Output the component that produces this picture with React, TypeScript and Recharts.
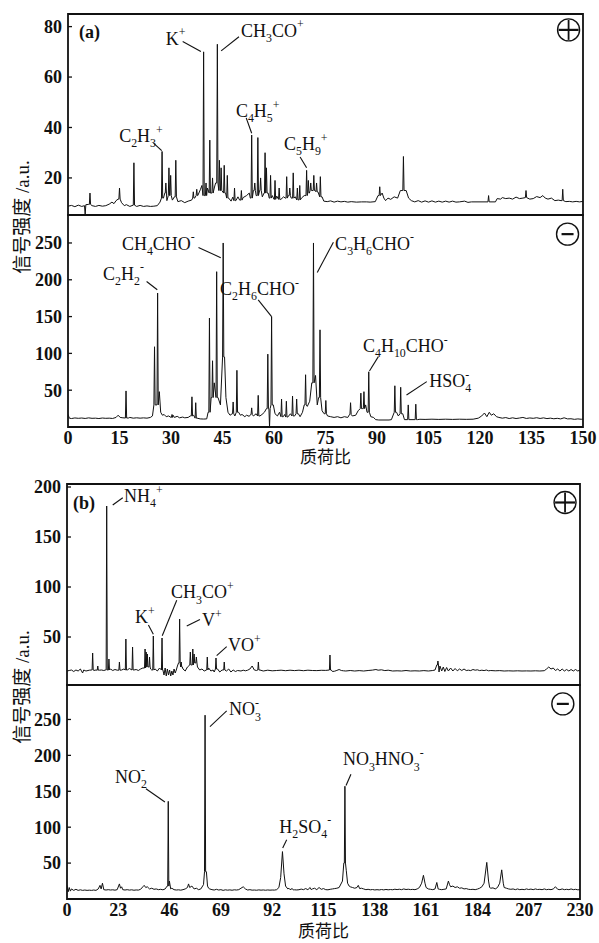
import React from 'react';
import {
  LineChart,
  Line,
  XAxis,
  YAxis,
  ReferenceLine,
  ReferenceDot,
  ReferenceArea,
  Label,
} from 'recharts';

const INK = '#111';
const SERIF = "'Liberation Serif', 'Times New Roman', serif";
const CJK = "'Liberation Serif', 'Noto Sans CJK SC', sans-serif";

type Pt = [number, number];
type Note = { text: string; at: Pt; line?: [number, number, number, number]; bold?: boolean };

// tick labels
const xTicksA = [0, 15, 30, 45, 60, 75, 90, 105, 120, 135, 150];
const xTicksB = [0, 23, 46, 69, 92, 115, 138, 161, 184, 207, 230];
const yTicksAPos = [20, 40, 60, 80];
const yTicksANeg = [50, 100, 150, 200, 250];
const yTicksBPos = [50, 100, 150, 200];
const yTicksBNeg = [50, 100, 150, 200, 250];

// (a) positive spectrum: baseline trace [m/z, signal] and spikes [m/z, height]
const aPosBase: Pt[] = [
  [0, 8.8], [1, 9.1], [2, 8.6], [3, 9.2], [4, 8.7], [4.8, 9], [5, 5.5], [5.2, 9.4], [6, 9.5], [7, 9], [8, 8.7],
  [9, 9.1], [10, 8.8], [11, 9], [12, 9.6], [12.8, 10.4], [13.4, 9.8], [14, 11], [14.6, 11.6], [15.6, 10.2],
  [16.4, 9], [17, 9.4], [18, 8.7], [19, 9.2], [20, 8.7], [21, 9.1], [22, 8.7], [23, 8.9], [24, 8.7], [25, 8.8],
  [26, 9], [26.8, 10.4], [27.8, 12], [28.2, 14], [28.8, 11], [29.6, 13], [30.4, 11.2], [31, 12.5], [32, 10.6],
  [33, 11], [34, 10.2], [35, 10.8], [36, 11.2], [36.9, 12], [37.8, 13], [38.6, 15.5], [39, 17], [39.9, 13],
  [40.6, 16], [41.9, 14], [42.6, 16], [43, 18], [44.8, 15], [45.9, 14], [46.8, 12], [47.5, 10.8], [48, 12.4],
  [48.9, 11], [49.5, 12.5], [50, 11.2], [51, 12.2], [52, 13], [52.8, 14], [53.1, 12], [54, 15], [54.8, 13],
  [55.8, 15], [56.6, 12.5], [57.1, 14], [58.3, 14], [58.6, 12], [59.5, 13], [60, 11.5], [60.8, 12.8], [62, 11.5],
  [62.8, 12.5], [63.3, 12], [64.2, 13], [65, 12], [66.2, 12.5], [67, 11.3], [68, 12], [68.8, 13], [70.3, 14],
  [71, 15], [72, 15], [72.8, 14.5], [74, 12.5], [74.5, 10.8], [75.5, 10.6], [76.5, 10.9], [77.5, 10.4],
  [78.5, 10.8], [79.5, 10.5], [80.5, 10.7], [81.5, 10.4], [82.5, 10.6], [84, 10.4], [85.5, 10.5], [87, 10.5],
  [88, 10.4], [89.5, 10.6], [90.3, 13], [91.5, 14], [92, 12], [92.5, 11], [93.2, 12], [94, 11.5], [95, 12.5],
  [96, 12], [96.8, 15], [98.5, 15], [99.2, 12], [100, 11], [101, 10.5], [102, 11], [103, 10.4], [104, 10.9],
  [105, 10.4], [106, 10.9], [107, 10.4], [108, 10.8], [109, 10.4], [110, 10.8], [111, 10.4], [112, 10.8],
  [113, 10.4], [114, 10.5], [115.5, 10.8], [116.5, 10.3], [117.5, 10.5], [124.5, 10.5], [125, 11.8], [126, 11.6],
  [126.5, 12.2], [127.5, 11.8], [128.5, 12], [129.5, 11.6], [130.5, 12.4], [131.5, 11.8], [132.5, 12],
  [133.5, 12.2], [134.5, 11.6], [135.5, 11.8], [136.5, 12.6], [137.5, 12.2], [138.3, 13], [139, 12], [139.8, 11.6],
  [140.8, 12], [141.8, 11], [142.8, 11.2], [143.6, 11], [145, 10.6], [146, 10.7], [147, 10.5], [148, 10.7],
  [149, 10.5], [150, 10.7],
];
const aPosPeaks: Pt[] = [
  [6.4, 14], [15, 16], [19.2, 26], [27.4, 30.5], [28.5, 18], [29.4, 24], [29.9, 21], [31.4, 27], [36.5, 14.5],
  [37.5, 15.5], [39.5, 70], [40.2, 18], [41.3, 35], [42.1, 20], [43.5, 73], [44.1, 27], [44.6, 24], [45.5, 25],
  [46.4, 21], [48.5, 16], [50.5, 15], [53.5, 37], [54.4, 18], [55.3, 36], [56.1, 20], [57.4, 30], [57.8, 24],
  [59, 21], [60.3, 19], [61.5, 16], [63.7, 20.5], [64.6, 16], [65.6, 22], [66.8, 16], [67.5, 17], [69.5, 23],
  [70, 19], [70.7, 18], [71.6, 21], [72.4, 18], [73.5, 20.5], [90.8, 16.5], [97.7, 28.5], [122.5, 13],
  [133.4, 15], [144.1, 15.5],
];

// (a) negative spectrum
const aNegBase: Pt[] = [
  [0, 17], [0.4, 12], [1, 11.5], [2, 12.3], [3, 11.8], [4, 12.2], [5, 11.6], [6, 12.4], [7, 11.8], [8, 12],
  [9, 11.5], [10, 12.2], [11, 11.8], [12, 12], [13, 11.6], [14, 13], [14.6, 16], [15.2, 13], [16, 12.5],
  [17.6, 12.2], [18, 13], [19, 12], [20, 12.5], [21, 12], [22, 12.4], [23, 12], [24, 13], [24.6, 15], [25.6, 30],
  [26.6, 48], [27, 20], [27.5, 16], [28, 17], [28.6, 14], [29.3, 15], [30, 13], [30.6, 16], [31, 13], [31.8, 14.5],
  [32.5, 12.5], [33.4, 13.5], [34, 12.5], [35, 13], [35.6, 15], [36.6, 16], [37.6, 12], [38.5, 11], [39.5, 10.8],
  [40.4, 11], [40.8, 20], [41.7, 40], [42.6, 60], [43.7, 40], [44.4, 30], [45.6, 95], [46, 40], [46.6, 20],
  [47.2, 16], [47.8, 18], [48.6, 15], [49.7, 20], [50.2, 16], [50.7, 17], [51.5, 14], [52, 16], [52.8, 14.5],
  [53.2, 17], [54, 15], [54.8, 18], [55.9, 15], [56.5, 17], [57.2, 20], [57.8, 25], [59.8, 30], [60.3, 18],
  [61, 15], [61.6, 20], [62.7, 14], [63.1, 17], [64, 13.5], [64.8, 18], [66, 15], [67.1, 18], [67.6, 14],
  [68.3, 20], [68.8, 30], [69.7, 28], [70.4, 35], [71, 60], [72.1, 70], [72.6, 30], [73, 40], [74, 22],
  [74.6, 18], [75.6, 15], [76.5, 14], [77.5, 13], [78.5, 14], [79.5, 12.5], [80.5, 14], [81.5, 13], [82, 17],
  [82.8, 15], [83.8, 16], [84.5, 22], [85.7, 25], [86.7, 30], [87.1, 20], [88.2, 14], [89, 13], [89.6, 10],
  [90.5, 9.5], [93.5, 9.5], [94.2, 10], [95.7, 20], [96.2, 15], [97.5, 18], [98, 10], [99.6, 10], [100.8, 10],
  [101.8, 10], [102.5, 10.5], [104, 10.3], [106, 10.6], [108, 10.3], [110, 10.6], [112, 10.3], [114, 10.6],
  [116, 10.4], [118, 10.6], [119.5, 12], [120.5, 15], [121.3, 19], [122, 14], [122.7, 20], [123.3, 16], [124, 18],
  [124.8, 14], [125.5, 13], [126.5, 12], [127.5, 12.8], [128.5, 11.5], [129.5, 12.5], [130.5, 11.5],
  [131.5, 12.2], [132.5, 13], [133.5, 11.6], [134.5, 12.3], [135.5, 11.8], [136.5, 12.6], [137.5, 11.6],
  [138.5, 12.4], [139.5, 11.4], [140.5, 12], [141.5, 11.2], [142.5, 11.8], [143.5, 11], [144.5, 12.5],
  [145.5, 11], [146.5, 11.2], [147.5, 10.4], [148.5, 11], [149.5, 10.5], [150, 10.8],
];
const aNegPeaks: Pt[] = [
  [16.9, 49], [25.2, 109], [26.1, 182], [30.3, 17], [36.1, 41], [37.2, 33], [41.2, 148], [42.1, 90], [43.3, 211],
  [45.2, 250], [48.1, 34], [49.2, 77], [53.5, 26], [55.4, 43], [58.2, 99], [58.7, 0], [59.3, 150], [62.2, 38],
  [63.6, 35], [65.4, 42], [66.6, 38], [69.2, 71], [71.5, 250], [73.4, 132], [75.1, 36], [82.3, 33], [85.3, 46],
  [86.2, 48], [87.6, 75], [95.2, 56], [96.9, 54], [99.1, 30], [101.3, 31],
];

// (b) positive spectrum
const bPosBase: Pt[] = [
  [0, 16], [1, 16.5], [2, 17], [3, 15.5], [4, 17], [5, 16], [6, 18], [7, 14], [7.5, 17], [8.5, 16], [10, 16.8],
  [11, 17], [12, 16.5], [13, 17], [14.5, 16.8], [15.5, 17], [16.5, 16.5], [17.2, 17], [18.4, 17], [19.5, 18],
  [20.5, 16.5], [21.5, 17.5], [22.5, 16.8], [24.5, 17], [25.5, 18], [27, 17], [28, 18.5], [30, 17], [31, 17.5],
  [32, 16.5], [33, 18], [34, 19], [36.5, 20], [37.5, 18], [38, 17], [39.5, 18], [40.5, 16], [41.5, 19], [43, 17],
  [43.5, 12], [44, 19], [44.5, 11], [45, 18], [45.5, 12], [46, 17], [46.5, 11], [47, 16], [47.5, 12], [48, 18],
  [48.5, 14], [49, 17], [49.5, 21], [50, 24], [51.7, 20], [52, 18], [53, 16], [54, 20], [55.8, 22], [57.5, 24],
  [58.5, 20], [59.5, 17], [60.5, 18], [61.5, 16], [62.5, 17], [63.5, 19], [64.5, 16], [65.5, 17], [66, 15],
  [67.5, 18], [68.5, 15], [69.5, 17], [71.5, 16], [72.5, 18], [73.5, 15], [74.5, 17], [75.5, 15.5], [76.5, 16.5],
  [78, 16], [79, 16.8], [80, 16.2], [81, 16.8], [82, 18], [83, 21], [84, 17], [85, 16.5], [86.5, 17], [88, 16],
  [90, 16.8], [92, 16.2], [94, 16.5], [96, 16.8], [98, 16.3], [100, 16.8], [102, 16.4], [104, 16.8], [106, 16.3],
  [108, 16.8], [110, 16.5], [112, 16.4], [114, 16.7], [116, 16.6], [117, 16.8], [118.5, 17], [119, 15.5],
  [120, 15.8], [121, 16.6], [122, 17.5], [123, 16.5], [124, 16.2], [125, 16], [127, 16.5], [129, 16],
  [131, 16.4], [133, 16], [135, 16.5], [137, 16.9], [138.5, 17.5], [139.5, 16.8], [141, 17.2], [142.5, 16.4],
  [144, 16.8], [146, 16], [148, 16.2], [150, 16], [152, 16.5], [154, 16], [156, 16.2], [158, 16], [160, 16.4],
  [162, 16], [164, 16.5], [165, 17], [165.8, 22], [166.8, 15], [167.2, 21], [168, 16], [168.7, 20], [169.4, 15.5],
  [170.2, 19.5], [171, 16], [172, 19], [173, 16], [174, 18.5], [175, 16.2], [176, 18], [177, 16.5], [178, 18],
  [179, 16.5], [180, 16.8], [181, 16.4], [182, 17.5], [183, 16.8], [184, 17.2], [185, 16.4], [186, 16.8],
  [187, 16.4], [188, 17], [189, 16.2], [190, 16.5], [192, 16.2], [194, 16.4], [196, 16], [198, 16.2], [200, 16],
  [202, 16.2], [204, 16], [206, 16.1], [208, 16], [210, 16.2], [212, 16], [214, 16.3], [215, 18], [216, 20],
  [217, 18], [218, 19], [219, 16.5], [220, 18], [221, 16], [222, 18], [223, 16], [224, 17.5], [225, 16],
  [226, 17.5], [227, 16], [228, 17.5], [229, 16], [230, 17],
];
const bPosPeaks: Pt[] = [
  [11.5, 34], [13.8, 21], [17.8, 181], [18.8, 28], [23.5, 25], [26.4, 48], [29.4, 40], [35, 38], [35.5, 35],
  [36, 33], [37, 30], [38.7, 51], [42.6, 49], [50.5, 68], [51.2, 25], [55.3, 35], [56.4, 38], [57, 33], [58, 30],
  [62.9, 30], [66.8, 29], [70.5, 25], [85.8, 25], [117.9, 32], [166.3, 26],
];

// (b) negative spectrum
const bNegBase: Pt[] = [
  [0, 19], [0.5, 10], [1, 16], [1.5, 11], [2, 14], [3, 12], [4, 13.5], [5, 12], [6, 12.8], [7, 12], [8, 12.5],
  [9, 12], [10, 12.3], [11, 12], [12, 12.5], [13, 12], [14, 14], [14.8, 19], [15.3, 14], [15.9, 22], [16.5, 13],
  [17.5, 12.5], [18.5, 13], [19.5, 12.5], [20.5, 12.8], [21.5, 12.3], [22.5, 13], [23.5, 21], [24, 15],
  [24.5, 17], [25, 13], [26, 12.5], [27, 13], [28, 12.4], [29, 12.8], [30, 12.2], [31, 12.6], [32, 12.4],
  [33, 13.5], [34, 17], [34.6, 19], [35.3, 16], [36, 17], [37, 14], [38, 15], [39, 13.5], [40, 14], [41, 13],
  [42, 13.5], [43, 12.8], [44, 14], [44.9, 18], [45.9, 25], [46.5, 14], [47, 15], [48, 13], [49, 12.5],
  [50, 12.8], [51, 12.3], [52, 13], [53, 14], [54, 16], [54.5, 21], [55, 16], [56, 18], [57, 14], [58, 15],
  [59, 13], [60, 14], [61.2, 20], [62.5, 38], [63, 18], [63.5, 15], [64, 14], [65, 13], [66, 12.5], [67, 13.5],
  [68, 12.5], [69, 13], [70, 12], [71, 12.8], [72, 12.3], [73, 12.7], [74, 12.2], [75, 12.8], [76, 12.5], [77, 13],
  [78, 15], [79, 17], [80, 14], [81, 12.5], [82, 13], [83, 12.3], [84, 12.5], [85, 12.2], [86, 12.7], [87, 12.3],
  [88, 12.6], [89, 12.2], [90, 12.6], [91, 12.3], [92, 12.5], [93, 12.4], [94, 13], [95, 16], [95.8, 30],
  [96.6, 66], [97.3, 35], [98, 18], [99, 14], [99.5, 15], [100, 13], [101, 14.5], [101.5, 12.5], [102, 12.8],
  [103, 12.6], [104, 12.9], [105, 13.8], [106, 13], [107, 14.5], [108, 13], [109, 16], [109.5, 13], [110, 14],
  [111, 15], [112, 13], [113, 16], [114, 13.5], [115, 14.5], [116, 13], [117, 12.8], [118, 13.5], [119, 14],
  [120, 14.5], [121, 15], [122, 16], [123.5, 25], [124.1, 50], [125.2, 40], [125.8, 22], [126.5, 18], [127, 17],
  [128, 16], [129, 15], [130, 16], [130.6, 19], [131.2, 14.5], [132, 15], [133, 14], [134, 13], [135, 13.5],
  [136, 12.8], [137, 13.2], [138, 12.6], [139, 13], [140, 12.6], [141, 13.2], [142, 12.7], [143, 13.3],
  [144, 12.8], [145, 13.2], [146, 12.9], [147, 13.6], [148, 13.1], [149, 13.6], [150, 13], [151, 14],
  [152, 13.2], [153, 13.6], [154, 13.1], [155, 13.4], [156, 13], [157, 14], [158, 16], [159, 22], [159.8, 33],
  [160.5, 22], [161, 16], [162, 14], [163, 13.5], [164, 13], [165, 14], [165.8, 23], [166.4, 14], [167, 13.5],
  [168, 13], [169, 13.5], [170, 14], [171, 25], [171.5, 20], [172, 17], [173, 18], [174, 16], [175, 17],
  [176, 15], [177, 15.5], [178, 14], [179, 14.5], [180, 13.5], [181, 13.2], [182, 13.5], [183, 13], [184, 13.8],
  [185, 15], [186, 17], [187, 22], [188.2, 51], [189, 25], [189.5, 16], [190, 15], [191, 15.5], [192, 14],
  [193, 16], [194, 22], [194.9, 40.6], [195.6, 22], [196, 16], [197, 15], [198, 14], [199, 13.5], [200, 14],
  [201, 13], [202, 14], [203, 13], [204, 13.5], [205, 13], [206, 14], [207, 13.2], [208, 13.8], [209, 13],
  [210, 14], [211, 13.2], [212, 13.5], [213, 13], [214, 14], [215, 13], [216, 13.5], [217, 13], [218, 14],
  [219, 17], [220, 13.5], [221, 13], [222, 14], [223, 13], [224, 13.5], [225, 13], [226, 14], [227, 13],
  [228, 13.5], [229, 12.8], [230, 13],
];
const bNegPeaks: Pt[] = [[45.4, 136], [61.9, 256], [124.6, 157]];

// annotations: text anchor (left, baseline) and leader line, in data units
const aPosNotes: Note[] = [
  { text: '(a)', at: [3.2, 75.6], bold: true },
  { text: 'K^+', at: [28.5, 72.8], line: [33.4, 74.1, 38.7, 70.1] },
  { text: 'CH_3CO^+', at: [50.4, 76], line: [49.8, 76, 44.6, 70.4] },
  { text: 'C_4H_5^+', at: [48.9, 44.2], line: [51.9, 43.8, 53.5, 37.7] },
  { text: 'C_2H_3^+', at: [14.9, 34.3], line: [24.9, 33.8, 27.3, 30.8] },
  { text: 'C_5H_9^+', at: [62.9, 31.1], line: [67.6, 28.3, 69.5, 24] },
];
const aNegNotes: Note[] = [
  { text: 'CH_4CHO^-', at: [15.7, 240.8], line: [38, 244, 44.5, 230] },
  { text: 'C_2H_2^-', at: [10.2, 200], line: [22.9, 197.7, 26, 186.4] },
  { text: 'C_2H_6CHO^-', at: [44.3, 179.6], line: [55.4, 172.8, 59.3, 150] },
  { text: 'C_3H_6CHO^-', at: [77.8, 240.8], line: [77.3, 251, 72.6, 210] },
  { text: 'C_4H_{10}CHO^-', at: [85.9, 102], line: [90.4, 95.6, 87.8, 76] },
  { text: 'HSO_4~-', at: [105.2, 54.4], line: [104.5, 61.6, 98.6, 43.5] },
];
const bPosNotes: Note[] = [
  { text: '(b)', at: [2.7, 178.2], bold: true },
  { text: 'NH_4^+', at: [25.6, 185.2], line: [20.5, 182, 25, 189.3] },
  { text: 'K^+', at: [30.5, 64], line: [36.5, 62, 38.7, 52.7] },
  { text: 'CH_3CO^+', at: [46.6, 88.8], line: [49.2, 86.8, 42.7, 51.3] },
  { text: 'V^+', at: [60.5, 61], line: [59.6, 67.6, 53.7, 61] },
  { text: 'VO^+', at: [72.2, 36], line: [71.6, 40.4, 67.1, 31.4] },
];
const bNegNotes: Note[] = [
  { text: 'NO_3~-', at: [72.6, 256], line: [71.6, 262, 64.1, 240] },
  { text: 'NO_2~-', at: [21.5, 162], line: [35.4, 153.6, 43.9, 135] },
  { text: 'H_2SO_4^-', at: [95.2, 92.4], line: [98.5, 82.6, 96.7, 71] },
  { text: 'NO_3HNO_3^-', at: [123.7, 186], line: [127.3, 173.7, 125.1, 158] },
];

function buildTrace(base: Pt[], peaks: Pt[], hw: number) {
  const foot = (m: number) =>
    base.reduce((b, p) => (Math.abs(p[0] - m) < Math.abs(b[0] - m) ? p : b))[1];
  const pts: Pt[] = base.filter(([m]) => !peaks.some(([pm]) => Math.abs(pm - m) <= hw));
  peaks.forEach(([m, h]) => {
    const f = foot(m);
    pts.push([m - hw, f], [m, h], [m + hw, f]);
  });
  return pts.sort((a, b) => a[0] - b[0]).map(([mz, v]) => ({ mz, v }));
}

type Seg = { t: string; k: 'n' | 'sub' | 'sup' | 'stk' };
function parseChem(s: string): Seg[] {
  const out: Seg[] = [];
  let i = 0;
  while (i < s.length) {
    const c = s[i];
    if (c === '_' || c === '^' || c === '~') {
      let t = '';
      if (s[i + 1] === '{') {
        const j = s.indexOf('}', i);
        t = s.slice(i + 2, j);
        i = j + 1;
      } else {
        t = s[i + 1];
        i += 2;
      }
      out.push({ t, k: c === '_' ? 'sub' : c === '^' ? 'sup' : 'stk' });
    } else {
      const last = out[out.length - 1];
      if (last && last.k === 'n') last.t += c;
      else out.push({ t: c, k: 'n' });
      i++;
    }
  }
  return out;
}

function ChemText({ x, y, label, bold, size = 18 }: { x: number; y: number; label: string; bold?: boolean; size?: number }) {
  let cur = 0;
  return (
    <text x={x} y={y} fontFamily={SERIF} fontSize={size} fontWeight={bold ? 'bold' : 'normal'} fill={INK}>
      {parseChem(label).map((p, i) => {
        const target = p.k === 'sub' ? size * 0.3 : p.k === 'n' ? 0 : -size * 0.46;
        const dy = target - cur;
        cur = target;
        const dx = p.k === 'stk' ? -size * 0.33 : 0;
        return (
          <tspan key={i} dy={dy} dx={dx} fontSize={p.k === 'n' ? size : size * 0.66}>
            {p.t}
          </tspan>
        );
      })}
    </text>
  );
}

const signShape = (minus: boolean) => (s: any) => (
  <g>
    <circle cx={s.cx} cy={s.cy} r={11} fill="#fff" stroke={INK} strokeWidth={1.4} />
    <line x1={s.cx - (minus ? 6 : 10)} x2={s.cx + (minus ? 6 : 10)} y1={s.cy} y2={s.cy} stroke={INK} strokeWidth={2.2} />
    {!minus && <line x1={s.cx} x2={s.cx} y1={s.cy - 10} y2={s.cy + 10} stroke={INK} strokeWidth={1.8} />}
  </g>
);

const tickFont = { fontFamily: SERIF, fontSize: 18, fontWeight: 'bold' as const, fill: INK };

interface PanelProps {
  top: number;
  height: number;
  mTop: number;
  mRight: number;
  mBottom: number;
  yWidth: number;
  xHeight: number;
  bottom: boolean;
  titleOffset?: number;
  data: { mz: number; v: number }[];
  xDomain: [number, number];
  yDomain: [number, number];
  xTicks: number[];
  yTicks: number[];
  notes: Note[];
  sign: Pt;
  minus: boolean;
}

function Panel(p: PanelProps) {
  const [x0, x1] = p.xDomain;
  const [y0, y1] = p.yDomain;
  return (
    <div style={{ position: 'absolute', left: 0, top: p.top }}>
      <LineChart
        width={599}
        height={p.height}
        data={p.data}
        margin={{ top: p.mTop, right: p.mRight, bottom: p.mBottom, left: 0 }}
      >
        <XAxis
          dataKey="mz"
          type="number"
          domain={p.xDomain}
          ticks={p.xTicks}
          interval={0}
          allowDataOverflow
          axisLine={false}
          height={p.xHeight}
          tickLine={p.bottom ? false : { stroke: INK, strokeWidth: 1.3 }}
          tickSize={p.bottom ? 0 : -5}
          tickMargin={p.bottom ? 4 : 0}
          tick={tickFont}
          tickFormatter={p.bottom ? undefined : () => ''}
        >
          {p.bottom && (
            <Label
              value="质荷比"
              position="insideBottom"
              offset={p.titleOffset}
              style={{ fontFamily: CJK, fontSize: 17, fill: INK }}
            />
          )}
        </XAxis>
        <YAxis
          type="number"
          domain={p.yDomain}
          ticks={p.yTicks}
          interval={0}
          allowDataOverflow
          width={p.yWidth}
          axisLine={false}
          tickLine={{ stroke: INK, strokeWidth: 1.3 }}
          tickSize={-4}
          tickMargin={10}
          tick={tickFont}
        />
        <ReferenceArea x1={x0} x2={x1} y1={y0} y2={y1} fill="none" stroke={INK} strokeWidth={1.8} />
        <Line
          dataKey="v"
          type="linear"
          dot={false}
          stroke={INK}
          strokeWidth={1}
          isAnimationActive={false}
        />
        {p.notes.map((n, i) =>
          n.line ? (
            <ReferenceLine
              key={'l' + i}
              segment={[
                { x: n.line[0], y: n.line[1] },
                { x: n.line[2], y: n.line[3] },
              ]}
              stroke={INK}
              strokeWidth={1.1}
            />
          ) : null
        )}
        {p.notes.map((n, i) => (
          <ReferenceDot
            key={'t' + i}
            x={n.at[0]}
            y={n.at[1]}
            r={0}
            shape={(s: any) => <ChemText x={s.cx} y={s.cy} label={n.text} bold={n.bold} />}
          />
        ))}
        <ReferenceDot x={p.sign[0]} y={p.sign[1]} r={11} shape={signShape(p.minus)} />
      </LineChart>
    </div>
  );
}

export default function App() {
  return (
    <div style={{ position: 'absolute', left: 0, top: 0, width: 599, height: 943, background: '#fff' }}>
      <Panel
        top={0} height={230} mTop={14} mRight={16} mBottom={15} yWidth={68} xHeight={0} bottom={false}
        data={buildTrace(aPosBase, aPosPeaks, 0.18)}
        xDomain={[0, 150]} yDomain={[5.3, 85]} xTicks={xTicksA} yTicks={yTicksAPos}
        notes={aPosNotes} sign={[145.8, 78.7]} minus={false}
      />
      <Panel
        top={200} height={270} mTop={15} mRight={16} mBottom={0} yWidth={68} xHeight={43} bottom titleOffset={7}
        data={buildTrace(aNegBase, aNegPeaks, 0.18)}
        xDomain={[0, 150]} yDomain={[0, 288]} xTicks={xTicksA} yTicks={yTicksANeg}
        notes={aNegNotes} sign={[145.5, 262]} minus
      />
      <Panel
        top={470} height={230} mTop={14} mRight={19} mBottom={15} yWidth={67} xHeight={0} bottom={false}
        data={buildTrace(bPosBase, bPosPeaks, 0.25)}
        xDomain={[0, 230]} yDomain={[2, 203]} xTicks={xTicksB} yTicks={yTicksBPos}
        notes={bPosNotes} sign={[223.3, 184.5]} minus={false}
      />
      <Panel
        top={670} height={273} mTop={15} mRight={19} mBottom={0} yWidth={67} xHeight={44} bottom titleOffset={6}
        data={buildTrace(bNegBase, bNegPeaks, 0.25)}
        xDomain={[0, 230]} yDomain={[0, 298]} xTicks={xTicksB} yTicks={yTicksBNeg}
        notes={bNegNotes} sign={[222.3, 271.7]} minus
      />
      <svg width={599} height={943} style={{ position: 'absolute', left: 0, top: 0, pointerEvents: 'none' }}>
        <text x={22} y={217} transform="rotate(-90 22 217)" textAnchor="middle" dominantBaseline="central"
          fontFamily={CJK} fontSize={19} fill={INK}>
          信号强度 /a.u.
        </text>
        <text x={22} y={687} transform="rotate(-90 22 687)" textAnchor="middle" dominantBaseline="central"
          fontFamily={CJK} fontSize={19} fill={INK}>
          信号强度 /a.u.
        </text>
      </svg>
    </div>
  );
}
